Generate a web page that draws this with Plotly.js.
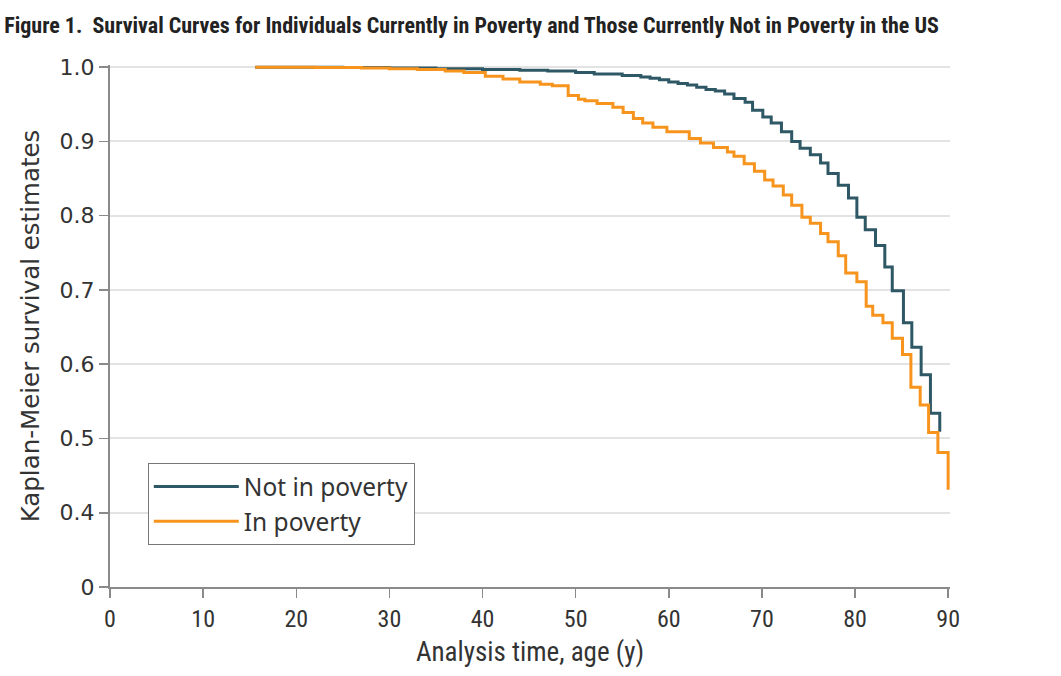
<!DOCTYPE html>
<html>
<head>
<meta charset="utf-8">
<script src="https://cdn.plot.ly/plotly-3.0.1.min.js"></script>
<style>html,body{margin:0;padding:0;background:#fff;}#chart{width:1061px;height:676px;}</style>
</head>
<body>
<div id="chart"></div>
<script>
// Kaplan-Meier step data (age at step, survival after step)
const notPovertyAge = [15.6, 25, 30, 35, 40, 44, 47, 50, 52, 55, 57, 58, 59, 60, 61, 62, 63, 64, 65, 66, 67, 68.2, 69.0, 70.1, 71.0, 72.1, 73.2, 74.1, 75.2, 76.3, 77.1, 78.2, 79.3, 80.2, 81.1, 82.2, 83.2, 84.0, 85.2, 86.1, 87.1, 88.1, 89.1];
const notPovertySurv = [1.0, 0.9995, 0.999, 0.998, 0.997, 0.996, 0.995, 0.993, 0.991, 0.989, 0.987, 0.985, 0.983, 0.980, 0.978, 0.976, 0.973, 0.970, 0.968, 0.964, 0.958, 0.953, 0.942, 0.933, 0.925, 0.913, 0.900, 0.891, 0.882, 0.871, 0.857, 0.841, 0.824, 0.798, 0.781, 0.760, 0.731, 0.699, 0.656, 0.623, 0.586, 0.534, 0.509];
const povertyAge = [15.6, 22, 27, 30, 33, 36, 38, 40.3, 42.2, 44.0, 46.2, 47.5, 49.2, 50.3, 51.0, 52.3, 54.0, 55.1, 56.2, 57.2, 58.3, 59.8, 62.2, 63.4, 64.8, 66.3, 67.0, 68.1, 69.2, 70.3, 71.2, 72.3, 73.2, 74.3, 75.2, 76.3, 77.1, 78.2, 79.0, 80.2, 81.2, 81.9, 83.0, 84.0, 85.1, 86.0, 87.0, 87.9, 88.9, 90.0];
const povertySurv = [1.0, 0.9995, 0.999, 0.998, 0.997, 0.995, 0.993, 0.988, 0.984, 0.980, 0.977, 0.975, 0.962, 0.957, 0.955, 0.951, 0.946, 0.939, 0.931, 0.925, 0.919, 0.913, 0.904, 0.898, 0.892, 0.886, 0.880, 0.870, 0.860, 0.848, 0.840, 0.828, 0.814, 0.798, 0.790, 0.776, 0.765, 0.746, 0.723, 0.711, 0.678, 0.666, 0.656, 0.635, 0.613, 0.569, 0.545, 0.508, 0.481, 0.431];
const seriesNames = ["Not in poverty", "In poverty"];
const xTickVals = [0, 10, 20, 30, 40, 50, 60, 70, 80, 90];
const xTickText = ["0", "10", "20", "30", "40", "50", "60", "70", "80", "90"];
// axis break: the "0" label sits one step below 0.4
const yTickVals = [0.3, 0.4, 0.5, 0.6, 0.7, 0.8, 0.9, 1.0];
const yTickText = ["0", "0.4", "0.5", "0.6", "0.7", "0.8", "0.9", "1.0"];

const traces = [
  {x: notPovertyAge, y: notPovertySurv, name: seriesNames[0], type: "scatter", mode: "lines",
   line: {shape: "hv", color: "#2f5866", width: 3}},
  {x: povertyAge, y: povertySurv, name: seriesNames[1], type: "scatter", mode: "lines",
   line: {shape: "hv", color: "#f7941d", width: 3}}
];

const condensed = "'Liberation Sans Narrow', 'Roboto Condensed', 'DejaVu Sans Condensed', sans-serif";

const layout = {
  width: 1061, height: 676,
  margin: {l: 110, r: 111, t: 65, b: 89},
  paper_bgcolor: "#ffffff", plot_bgcolor: "#ffffff",
  showlegend: true,
  title: {
    text: "<b>Figure 1.  Survival Curves for Individuals Currently in Poverty and Those Currently Not in Poverty in the US</b>",
    x: 0.004, xanchor: "left", y: 0.962, yanchor: "middle", xref: "container", yref: "container",
    font: {family: condensed, size: 22, color: "#222222"}
  },
  xaxis: {
    range: [0, 90.2], tickvals: xTickVals, ticktext: xTickText,
    showgrid: false, zeroline: false,
    showline: true, linecolor: "#8a8a8a", linewidth: 2,
    ticks: "outside", ticklen: 9, tickwidth: 1.5, tickcolor: "#8a8a8a",
    tickfont: {family: condensed, size: 24, color: "#333333"},
    title: {text: "Analysis time, age (y)", font: {family: condensed, size: 27, color: "#333333"}, standoff: 10},
    fixedrange: true
  },
  yaxis: {
    range: [0.3, 1.003], tickvals: yTickVals, ticktext: yTickText,
    showgrid: true, gridcolor: "#e3e3e3", gridwidth: 2, zeroline: false,
    showline: true, linecolor: "#8a8a8a", linewidth: 2,
    ticks: "outside", ticklen: 9, tickwidth: 1.5, tickcolor: "#8a8a8a",
    tickfont: {family: "'DejaVu Sans', sans-serif", size: 22, color: "#333333"},
    title: {text: "Kaplan-Meier survival estimates", font: {family: "'DejaVu Sans', sans-serif", size: 24.5, color: "#333333"}, standoff: 13},
    fixedrange: true
  },
  legend: {
    x: 0.045, y: 0.2375, xanchor: "left", yanchor: "top",
    bgcolor: "#ffffff", bordercolor: "#777777", borderwidth: 1,
    font: {family: "'Noto Sans', 'Open Sans', sans-serif", size: 24.5, color: "#333333"},
    itemwidth: 85, tracegroupgap: 6
  }
};

Plotly.newPlot("chart", traces, layout, {displayModeBar: false, staticPlot: true});
</script>
</body>
</html>
